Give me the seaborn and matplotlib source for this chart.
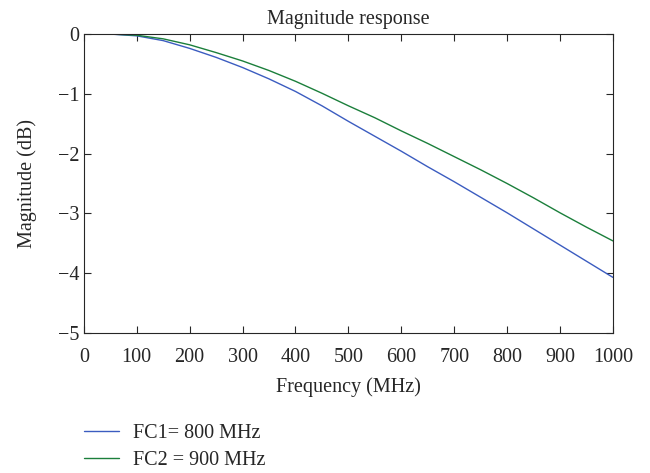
import numpy as np
import pandas as pd
import seaborn as sns
import matplotlib.pyplot as plt

# frequency grid (MHz) and magnitude readings (dB)
freq = [0, 50, 100, 150, 200, 250, 300, 350, 400, 450, 500,
        550, 600, 650, 700, 750, 800, 850, 900, 950, 1000]
mag_fc1 = [0.0, 0.0, -0.03, -0.11, -0.24, -0.39, -0.56, -0.75, -0.96, -1.20, -1.46,
           -1.71, -1.96, -2.22, -2.47, -2.73, -2.99, -3.26, -3.53, -3.80, -4.07]
mag_fc2 = [0.0, 0.0, -0.02, -0.08, -0.18, -0.31, -0.45, -0.61, -0.79, -0.99, -1.20,
           -1.40, -1.62, -1.83, -2.05, -2.27, -2.50, -2.74, -2.99, -3.23, -3.46]
labels = ['FC1= 800 MHz', 'FC2 = 900 MHz']
colors = ['#3b5cc0', '#1b7f3b']

df = pd.concat([
    pd.DataFrame({'freq': freq, 'mag': mag_fc1, 'series': labels[0]}),
    pd.DataFrame({'freq': freq, 'mag': mag_fc2, 'series': labels[1]}),
])

sns.set_style('ticks')
plt.rcParams['font.family'] = ['Liberation Serif', 'DejaVu Serif']
fs = 14.5

fig = plt.figure(figsize=(6.5, 4.73), dpi=100)
ax = fig.add_axes([0.129, 0.296, 0.814, 0.632])
sns.lineplot(data=df, x='freq', y='mag', hue='series', palette=colors,
             linewidth=1.0, ax=ax, legend=False)

ax.set_xlim(0, 1000)
ax.set_ylim(-5, 0)
ax.set_xticks(range(0, 1001, 100))
ax.set_yticks(range(-5, 1))
ax.set_yticklabels(['\u22125', '\u22124', '\u22123', '\u22122', '\u22121', '0'])
ax.tick_params(direction='in', top=True, right=True, length=5, width=0.8,
               labelsize=fs, pad=3)
ax.tick_params(axis='x', pad=11)
for s in ax.spines.values():
    s.set_linewidth(0.8)
ax.set_xlabel('Frequency (MHz)', fontsize=fs, labelpad=7)
ax.set_ylabel('Magnitude (dB)', fontsize=fs, labelpad=15)
ax.set_title('Magnitude response', fontsize=fs, pad=7)

handles = [plt.Line2D([], [], color=c, lw=1.0) for c in colors]
fig.legend(handles, labels, loc='upper left', bbox_to_anchor=(0.129, 0.104),
           frameon=False, fontsize=fs, handlelength=1.75, handletextpad=0.68,
           labelspacing=0.4, borderpad=0, borderaxespad=0)

fig.savefig('out.png', dpi=100)
